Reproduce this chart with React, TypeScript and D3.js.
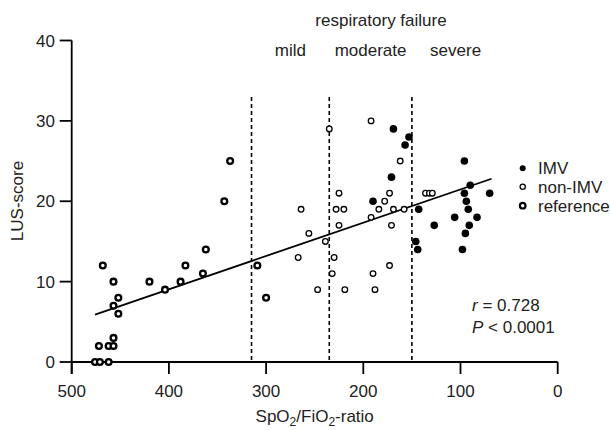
import React from "react";
import * as d3 from "d3";

const W = 610;
const H = 430;

// IMV (filled)
const imvX = [169, 153, 157, 171, 190, 143, 127, 146, 144, 96, 90, 96, 94, 92, 106, 83, 91, 95, 98, 70];
const imvY = [29, 28, 27, 23, 20, 19, 17, 15, 14, 25, 22, 21, 20, 19, 18, 18, 17, 16, 14, 21];

// non-IMV (open thin)
const nonX = [264, 256, 235, 192, 162, 225, 173, 136, 132, 129, 178, 228, 220, 184, 169, 158, 192, 225, 171, 239, 267, 230, 173, 232, 190, 247, 219, 188];
const nonY = [19, 16, 29, 30, 25, 21, 21, 21, 21, 21, 20, 19, 19, 19, 19, 19, 18, 17, 17, 15, 13, 13, 12, 11, 11, 9, 9, 9];

// reference (open thick)
const refX = [468, 457, 452, 457, 452, 420, 404, 388, 383, 365, 362, 457, 472, 462, 457, 476, 471, 462, 337, 343, 309, 300];
const refY = [12, 10, 8, 7, 6, 10, 9, 10, 12, 11, 14, 3, 2, 2, 2, 0, 0, 0, 25, 20, 12, 8];

// regression line endpoints
const fitX = [476, 68];
const fitY = [5.9, 22.8];

// thresholds
const thresholds = [315, 235, 150];
const severityLabels = ["mild", "moderate", "severe"];
const severityX = [275, 192.5, 105];

const xTicks = [500, 400, 300, 200, 100, 0];
const yTicks = [0, 10, 20, 30, 40];

const FONT = "'Liberation Sans', Arial, sans-serif";

export default function App() {
  const x = d3.scaleLinear().domain([500, 0]).range([71.7, 557.7]);
  const y = d3.scaleLinear().domain([0, 40]).range([362, 40.5]);
  const fs = 17;
  const line = d3
    .line<number>()
    .x((d) => x(fitX[d]))
    .y((d) => y(fitY[d]));

  return (
    <svg width={W} height={H} style={{ position: "absolute", left: 0, top: 0, background: "#fff" }} fontFamily={FONT}>
      <rect width={W} height={H} fill="#fff" />
      {/* dashed thresholds */}
      {thresholds.map((t, i) => (
        <line key={"th" + i} x1={x(t)} x2={x(t)} y1={97} y2={y(0)} stroke="#000" strokeWidth={1.6} strokeDasharray="4,3" />
      ))}
      {/* axes */}
      <line x1={x(500)} x2={x(0)} y1={y(0)} y2={y(0)} stroke="#000" strokeWidth={1.8} />
      <line x1={x(500)} x2={x(500)} y1={y(40)} y2={y(0) + 12} stroke="#000" strokeWidth={1.8} />
      {xTicks.map((t) => (
        <g key={"xt" + t}>
          <line x1={x(t)} x2={x(t)} y1={y(0)} y2={y(0) + 12} stroke="#000" strokeWidth={1.8} />
          <text x={x(t)} y={396.5} textAnchor="middle" fontSize={fs} fill="#222">{t}</text>
        </g>
      ))}
      {yTicks.map((t) => (
        <g key={"yt" + t}>
          <line x1={x(500) - 12} x2={x(500)} y1={y(t)} y2={y(t)} stroke="#000" strokeWidth={1.8} />
          <text x={55} y={y(t)} dy="0.36em" textAnchor="end" fontSize={fs} fill="#222">{t}</text>
        </g>
      ))}
      {/* axis labels */}
      <text x={17} y={201} transform="rotate(-90 17 201)" textAnchor="middle" dy="0.36em" fontSize={fs} fill="#222">LUS-score</text>
      <text x={314.7} y={422} textAnchor="middle" fontSize={fs} fill="#222">
        SpO<tspan fontSize={12} dy={3.5}>2</tspan>
        <tspan dy={-3.5}>/FiO</tspan>
        <tspan fontSize={12} dy={3.5}>2</tspan>
        <tspan dy={-3.5}>-ratio</tspan>
      </text>
      {/* header */}
      <text x={381} y={19.5} dy="0.36em" textAnchor="middle" fontSize={fs} fill="#222">respiratory failure</text>
      {severityLabels.map((s, i) => (
        <text key={s} x={x(severityX[i])} y={50} dy="0.36em" textAnchor="middle" fontSize={fs} fill="#222">{s}</text>
      ))}
      {/* regression */}
      <path d={line([0, 1]) || ""} fill="none" stroke="#000" strokeWidth={1.8} />
      {/* points */}
      {refX.map((v, i) => (
        <circle key={"r" + i} cx={x(v)} cy={y(refY[i])} r={2.9} fill="#fff" stroke="#000" strokeWidth={2.3} />
      ))}
      {nonX.map((v, i) => (
        <circle key={"n" + i} cx={x(v)} cy={y(nonY[i])} r={2.8} fill="#fff" stroke="#000" strokeWidth={1.3} />
      ))}
      {imvX.map((v, i) => (
        <circle key={"m" + i} cx={x(v)} cy={y(imvY[i])} r={3.8} fill="#000" />
      ))}
      {/* legend */}
      <circle cx={522.7} cy={168.3} r={3} fill="#000" />
      <text x={538} y={168.3} dy="0.36em" fontSize={fs} fill="#222">IMV</text>
      <circle cx={522.7} cy={186.7} r={2.6} fill="#fff" stroke="#000" strokeWidth={1.3} />
      <text x={538} y={186.7} dy="0.36em" fontSize={fs} fill="#222">non-IMV</text>
      <circle cx={522.7} cy={205.7} r={2.8} fill="#fff" stroke="#000" strokeWidth={2.2} />
      <text x={538} y={205.7} dy="0.36em" fontSize={fs} fill="#222">reference</text>
      {/* stats */}
      <text x={472} y={305} dy="0.36em" fontSize={fs} fill="#222">
        <tspan fontStyle="italic">r</tspan> = 0.728
      </text>
      <text x={472} y={327} dy="0.36em" fontSize={fs} fill="#222">
        <tspan fontStyle="italic">P</tspan> &lt; 0.0001
      </text>
    </svg>
  );
}
